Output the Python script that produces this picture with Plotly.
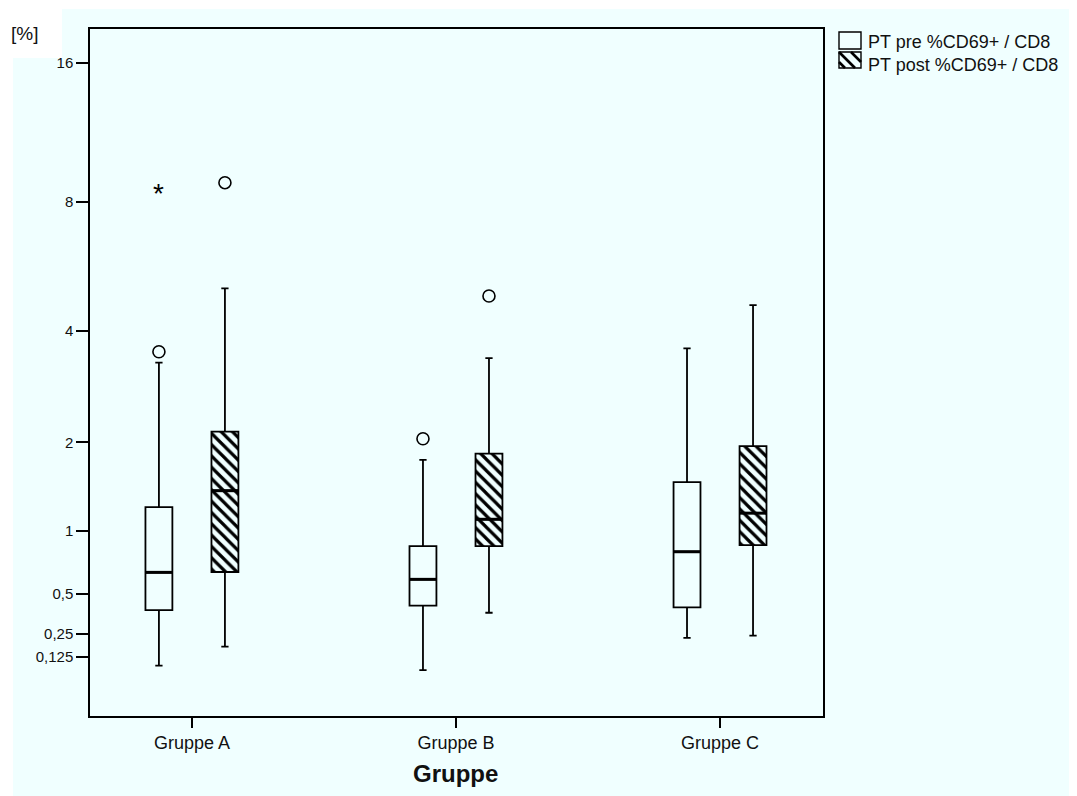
import numpy as np
import plotly.graph_objects as go

# ---------------- data (values in %) ----------------
groups = ["Gruppe A", "Gruppe B", "Gruppe C"]
series_names = ["PT pre %CD69+ / CD8", "PT post %CD69+ / CD8"]

pre_lower = [0.080, 0.058, 0.227]
pre_q1 = [0.393, 0.421, 0.410]
pre_median = [0.655, 0.603, 0.819]
pre_q3 = [1.23, 0.867, 1.50]
pre_upper = [3.32, 1.77, 3.61]

post_lower = [0.178, 0.376, 0.239]
post_q1 = [0.658, 0.867, 0.875]
post_median = [1.405, 1.11, 1.17]
post_q3 = [2.15, 1.85, 1.95]
post_upper = [5.07, 3.41, 4.62]

pre_outlier_group = [0, 1]
pre_outlier_value = [3.54, 2.05]
pre_extreme_group = [0]
pre_extreme_value = [8.52]
post_outlier_group = [0, 1]
post_outlier_value = [8.84, 4.86]

tick_values = [0.125, 0.25, 0.5, 1, 2, 4, 8, 16]
tick_labels = ["0,125", "0,25", "0,5", "1", "2", "4", "8", "16"]

# ---------------- helpers ----------------
def tf(v):
    return np.log2(np.asarray(v, dtype=float) + 1.0)

BG = "#F0FFFF"
FONT = "Liberation Sans, Arial, Helvetica, sans-serif"
OFF = 0.125
BW = 0.102
gx = np.arange(len(groups), dtype=float)
x_pre = gx - OFF
x_post = gx + OFF

PAGE = 8  # body margin of the html page
W, H = 1077 - PAGE, 796 - PAGE
ML, MR, MT, MB = 82, 254, 21, 80
PW, PH = W - ML - MR, H - MT - MB


def px(x):  # screen x -> paper
    return (x - PAGE - ML) / PW


def py(y):  # screen y -> paper
    return (H - MB - (y - PAGE)) / PH


fig = go.Figure()

# hatched fill of the post boxes
fig.add_trace(go.Bar(
    x=x_post, base=tf(post_q1), y=tf(post_q3) - tf(post_q1), width=BW,
    marker=dict(color=BG, line=dict(width=0),
                pattern=dict(shape="\\", fgcolor="black", bgcolor=BG, fgopacity=1,
                             size=8, solidity=0.4)),
    showlegend=False, hoverinfo="skip"))

for xs, lo, q1, med, q3, up, name in [
        (x_pre, pre_lower, pre_q1, pre_median, pre_q3, pre_upper, series_names[0]),
        (x_post, post_lower, post_q1, post_median, post_q3, post_upper, series_names[1])]:
    fig.add_trace(go.Box(
        x=xs, q1=tf(q1), median=tf(med), q3=tf(q3),
        lowerfence=tf(lo), upperfence=tf(up), width=BW,
        whiskerwidth=0.27, boxpoints=False,
        fillcolor="rgba(0,0,0,0)", line=dict(color="black", width=1.8),
        name=name, showlegend=False))
    mx, my = [], []
    for xc, m in zip(xs, tf(med)):
        mx += [xc - BW / 2, xc + BW / 2, None]
        my += [m, m, None]
    fig.add_trace(go.Scatter(x=mx, y=my, mode="lines",
                             line=dict(color="black", width=3),
                             showlegend=False, hoverinfo="skip"))

# outliers (circles)
fig.add_trace(go.Scatter(
    x=[x_pre[g] for g in pre_outlier_group] + [x_post[g] for g in post_outlier_group],
    y=np.concatenate([tf(pre_outlier_value), tf(post_outlier_value)]),
    mode="markers",
    marker=dict(symbol="circle-open", size=12, color="black", line=dict(width=1.6)),
    showlegend=False))

# ---------------- layout ----------------
shapes = []
for x0, y0, x1, y1 in [(0, 0, 1077, 9), (0, 0, 13, 796), (0, 0, 62, 58)]:
    shapes.append(dict(type="rect", xref="paper", yref="paper", layer="below",
                       x0=px(x0), x1=px(x1), y0=py(y1), y1=py(y0),
                       fillcolor="white", line=dict(width=0)))
sw = [(839, 32, 861, 49), (839, 52, 861, 68)]
for (x0, y0, x1, y1) in sw:
    shapes.append(dict(type="rect", xref="paper", yref="paper",
                       x0=px(x0), x1=px(x1), y0=py(y1), y1=py(y0),
                       fillcolor="rgba(0,0,0,0)", line=dict(color="black", width=1.4)))
x0, y0, x1, y1 = sw[1]
for c in [-12, 0, 10]:
    xa = max(x0, x0 - c)
    ya = y0 + (xa - x0) + c
    xb = min(x1, x0 + (y1 - y0) - c)
    yb = y0 + (xb - x0) + c
    shapes.append(dict(type="line", xref="paper", yref="paper",
                       x0=px(xa), y0=py(ya), x1=px(xb), y1=py(yb),
                       line=dict(color="black", width=2.6)))

annotations = [
    dict(text="[%]", xref="paper", yref="paper", x=px(24), y=py(34),
         xanchor="center", yanchor="middle", showarrow=False,
         font=dict(size=19, color="#111", family=FONT)),
    dict(text="<b>Gruppe</b>", xref="paper", yref="paper", x=px(455), y=py(773),
         xanchor="center", yanchor="middle", showarrow=False,
         font=dict(size=24, color="#111", family=FONT)),
]
for name, yc in zip(series_names, [42, 65]):
    annotations.append(dict(text=name, xref="paper", yref="paper", x=px(866), y=py(yc),
                            xanchor="left", yanchor="middle", showarrow=False,
                            font=dict(size=18, color="#111", family=FONT)))
# extreme values drawn as asterisks at their data positions
for g, v in zip(pre_extreme_group, pre_extreme_value):
    annotations.append(dict(text="*", x=x_pre[g], y=float(tf(v)), xref="x", yref="y",
                            showarrow=False, yshift=-4,
                            font=dict(size=28, color="black", family=FONT)))

fig.update_layout(
    width=W, height=H,
    margin=dict(l=ML, r=MR, t=MT, b=MB, pad=0),
    paper_bgcolor=BG, plot_bgcolor=BG,
    boxmode="overlay", barmode="overlay",
    showlegend=False,
    font=dict(family=FONT, color="#111"),
    shapes=shapes, annotations=annotations,
    xaxis=dict(range=[-0.386, 2.39], tickvals=gx, ticktext=groups,
               ticks="outside", ticklen=10, tickwidth=2, tickcolor="black",
               showline=True, linecolor="black", linewidth=1.5, mirror=True,
               showgrid=False, zeroline=False, ticklabelstandoff=0,
               tickfont=dict(size=18, color="#111")),
    yaxis=dict(range=[-0.221, 4.313], tickvals=tf(tick_values), ticktext=tick_labels,
               ticks="outside", ticklen=12, tickwidth=2, tickcolor="black",
               showline=True, linecolor="black", linewidth=1.5, mirror=True,
               showgrid=False, zeroline=False,
               tickfont=dict(size=15, color="#111")),
)

fig.write_html("out.html")
